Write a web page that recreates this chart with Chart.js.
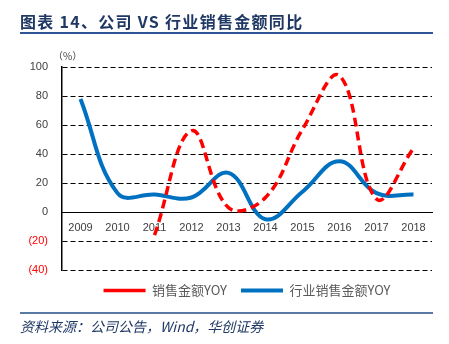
<!DOCTYPE html>
<html>
<head>
<meta charset="utf-8">
<script src="https://cdn.jsdelivr.net/npm/chart.js@4"></script>
<style>
  body { margin: 0; width: 449px; height: 344px; background: #fff; position: relative; overflow: hidden; }
  #wrap { position: absolute; left: 0; top: 0; width: 449px; height: 344px; }
  .title { position: absolute; left: 20px; top: 9px; font: bold 16px "Noto Sans CJK SC", sans-serif; letter-spacing: 1.3px; color: #1f3864; white-space: nowrap; }
  .rule { position: absolute; left: 20px; width: 413px; height: 2px; }
  .unit { position: absolute; left: 53px; top: 48px; font: 10px "Noto Sans CJK SC", sans-serif; color: #404040; }
  .source { position: absolute; left: 20px; top: 316px; font: italic 14px "Noto Sans CJK SC", sans-serif; color: #1f3864; white-space: nowrap; }
</style>
</head>
<body>
<div id="wrap"><canvas id="chart" width="449" height="344"></canvas></div>
<div class="title">图表 14、公司 VS 行业销售金额同比</div>
<div class="rule" style="top:32px;background:#2f5597"></div>
<div class="unit">（%）</div>
<div class="rule" style="top:312px;background:#5a7aa5"></div>
<div class="source">资料来源：公司公告，Wind，华创证券</div>
<script>
// 数据
const years = ["2009", "2010", "2011", "2012", "2013", "2014", "2015", "2016", "2017", "2018"];
const companyYoy = [null, null, -16, 56, 3, 10, 57, 94, 9, 44];
const industryYoy = [78, 13, 12, 10, 27, -5, 14, 35, 13, 12];
const yMin = -40, yMax = 100, yStep = 20;

const ctx = document.getElementById("chart").getContext("2d");

const myChart = new Chart(ctx, {
  type: "line",
  data: {
    labels: years,
    datasets: [
      {
        label: "销售金额YOY",
        data: companyYoy,
        borderColor: "#ff0000",
        backgroundColor: "#ff0000",
        borderWidth: 3.5,
        borderDash: [9, 5],
        pointRadius: 0,
        tension: 0.4,
      },
      {
        label: "行业销售金额YOY",
        data: industryYoy,
        borderColor: "#0070c0",
        backgroundColor: "#0070c0",
        borderWidth: 4,
        pointRadius: 0,
        tension: 0.4,
      },
    ],
  },
  options: {
    responsive: false,
    animation: false,
    layout: { padding: { left: 22, right: 17, top: 67, bottom: 37 } },
    scales: {
      x: {
        position: { y: 0 },
        offset: true,
        grid: { display: false, drawTicks: false },
        border: { display: true, color: "#000", width: 1 },
        ticks: {
          color: "#404040",
          font: { family: "Liberation Sans", size: 11 },
          padding: 9,
          maxRotation: 0,
          autoSkip: false,
        },
      },
      y: {
        min: yMin,
        max: yMax,
        afterFit: function (scale) {
          scale.width = 40;
        },
        ticks: {
          stepSize: yStep,
          padding: 14,
          font: { family: "Liberation Sans", size: 11 },
          color: function (c) {
            return c.tick.value < 0 ? "#ff0000" : "#404040";
          },
          callback: function (v) {
            return v < 0 ? "(" + -v + ")" : v;
          },
        },
        grid: {
          drawTicks: false,
          color: function (c) {
            return c.tick && c.tick.value === 0 ? "rgba(0,0,0,0)" : "#000";
          },
          lineWidth: 1,
        },
        border: { display: true, color: "#000", width: 1.5, dash: [5, 3] },
      },
    },
    plugins: {
      legend: {
        position: "bottom",
        fullSize: false,
        labels: {
          usePointStyle: true,
          pointStyle: "line",
          pointStyleWidth: 42,
          color: "#595959",
          font: { family: "Noto Sans CJK SC", size: 13 },
          padding: 14,
        },
      },
      tooltip: { enabled: false },
    },
  },
});
</script>
</body>
</html>
